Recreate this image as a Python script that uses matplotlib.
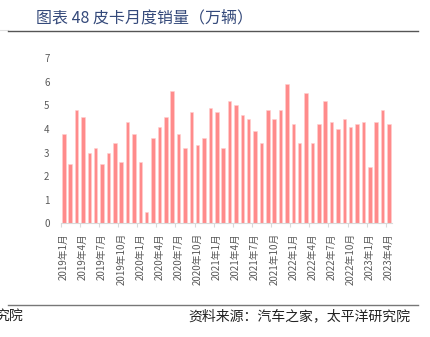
import numpy as np
import matplotlib
matplotlib.use("Agg")
import matplotlib.pyplot as plt
from matplotlib.lines import Line2D

plt.rcParams['font.family'] = ['Noto Sans CJK SC', 'DejaVu Sans']

# pickup monthly sales, 10k units, 2019-01 .. 2023-04
months = [f"{y}年{m}月" for y in range(2019, 2024) for m in range(1, 13)][:52]
sales = [3.8, 2.5, 4.8, 4.5, 3.0, 3.2, 2.5, 3.0, 3.4, 2.6, 4.3, 3.8,
         2.6, 0.5, 3.6, 4.1, 4.5, 5.6, 3.8, 3.2, 4.7, 3.3, 3.6, 4.9,
         4.7, 3.2, 5.2, 5.0, 4.6, 4.4, 3.9, 3.4, 4.8, 4.4, 4.8, 5.9,
         4.2, 3.4, 5.5, 3.4, 4.2, 5.2, 4.3, 4.0, 4.4, 4.1, 4.2, 4.3,
         2.4, 4.3, 4.8, 4.2]
yticks = [0, 1, 2, 3, 4, 5, 6, 7]

title = "图表 48 皮卡月度销量（万辆）"
source = "资料来源：汽车之家，太平洋研究院"

fig = plt.figure(figsize=(4.30, 3.37), dpi=100)
ax = fig.add_axes([0.141, 0.337, 0.771, 0.491])

x = np.arange(len(sales))
ax.bar(x, sales, width=0.55, color="#FF8B8B", edgecolor="#FFD0D0", linewidth=0.4)

ax.set_xlim(-0.5, len(sales) - 0.5)
ax.set_ylim(0, 7)
ax.set_yticks(yticks)
ax.set_yticklabels([str(v) for v in yticks])

# labels on every 3rd month, tick marks at category boundaries
ax.set_xticks(x[::3])
ax.set_xticklabels(months[::3], rotation=90)
ax.set_xticks(np.arange(-0.5, len(sales), 3), minor=True)
ax.tick_params(axis="x", which="major", length=0, pad=7, labelsize=7, labelcolor="#595959")
ax.tick_params(axis="x", which="minor", length=3, width=0.8, color="#D9D9D9")
ax.tick_params(axis="y", length=0, pad=8, labelsize=7, labelcolor="#595959")

for s in ["top", "right", "left"]:
    ax.spines[s].set_visible(False)
ax.spines["bottom"].set_color("#D9D9D9")
ax.spines["bottom"].set_linewidth(0.8)

# header and footer
fig.text(36 / 430, 1 - 18 / 337, title, fontsize=11.5, color="#34497A", va="center", ha="left")
fig.add_artist(Line2D([0, 8 / 430], [1 - 30 / 337] * 2, color="#E0E0E0", lw=0.8))
fig.add_artist(Line2D([8 / 430, 418 / 430], [1 - 30.7 / 337] * 2, color="#555555", lw=1.0))
fig.add_artist(Line2D([8 / 430, 418 / 430], [1 - 305 / 337] * 2, color="#777777", lw=1.0))
fig.text(410 / 430, 1 - 316 / 337, source, fontsize=10, color="#222222", va="center", ha="right")
# leftover of the neighbouring page's source line, clipped by the page edge
fig.text(-5 / 430, 1 - 316 / 337, "究院", fontsize=10, color="#222222", va="center", ha="left")

fig.savefig("out.png", dpi=100)
